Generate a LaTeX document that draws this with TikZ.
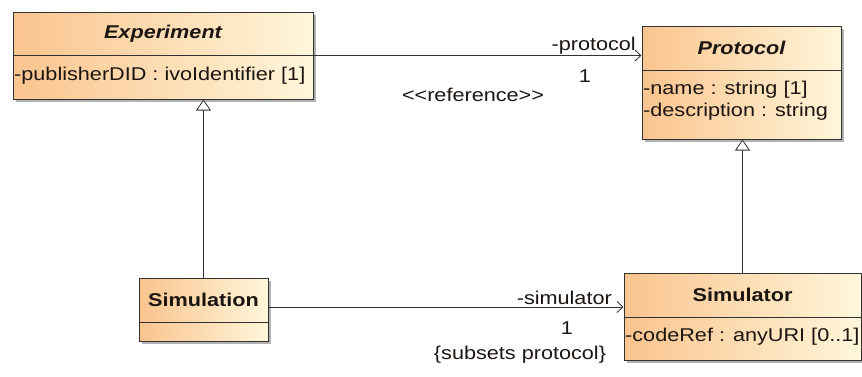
\documentclass[tikz,border=0pt]{standalone}
\usepackage{fontspec}
\setmainfont[FakeStretch=1.17]{Liberation Sans}
\usetikzlibrary{arrows.meta,shadows}
\definecolor{clsL}{RGB}{250,196,142}
\definecolor{clsR}{RGB}{255,246,218}
\definecolor{ink}{RGB}{28,22,18}
\definecolor{edge}{RGB}{50,50,50}
\begin{document}
\begin{tikzpicture}[x=1pt,y=-1pt,
  font=\fontsize{18.5}{22}\selectfont,
  classbox/.style={draw=edge, line width=1pt, left color=clsL, right color=clsR,
    drop shadow={shadow xshift=3pt,shadow yshift=-3pt,opacity=0.5,fill=black!60},
    inner sep=0pt, rectangle},
  divider/.style={draw=edge, line width=1pt},
  hdr/.style={font=\fontsize{18.5}{22}\selectfont\bfseries, text=ink, inner sep=0pt},
  abshdr/.style={font=\fontsize{18.5}{22}\selectfont\bfseries\itshape, text=ink, inner sep=0pt},
  attr/.style={anchor=west, inner sep=0pt, text=ink},
  lbl/.style={inner sep=0pt, text=ink},
  assoc/.style={draw=edge, line width=0.8pt, -{Straight Barb[length=6pt,width=11pt]}},
  gen/.style={draw=edge, line width=0.8pt, -{Triangle[length=11pt,width=15pt,fill=white]}}
]
\useasboundingbox[fill=white] (0,0) rectangle (862,376);

% Experiment
\node[classbox, minimum width=300pt, minimum height=87pt] (exp) at (163,55.5) {};
\draw[divider] (exp.west |- 0,55.5) -- (exp.east |- 0,55.5);
\node[abshdr] (expT) at (163,34) {Experiment};
\node[attr] (expA) at (14,76) {-publisherDID : ivoIdentifier [1]};

% Protocol
\node[classbox, minimum width=199pt, minimum height=113pt] (proto) at (741.5,82.5) {};
\draw[divider] (proto.west |- 0,70) -- (proto.east |- 0,70);
\node[abshdr] (protoT) at (741.5,48) {Protocol};
\node[attr] (protoA1) at (643,90) {-name : string [1]};
\node[attr] (protoA2) at (643,112) {-description : string};

% Simulation
\node[classbox, minimum width=129pt, minimum height=63pt] (simn) at (203.5,309.5) {};
\draw[divider] (simn.west |- 0,322) -- (simn.east |- 0,322);
\node[hdr] (simnT) at (203.5,300) {Simulation};

% Simulator
\node[classbox, minimum width=237pt, minimum height=87pt] (simr) at (742.5,316.5) {};
\draw[divider] (simr.west |- 0,317) -- (simr.east |- 0,317);
\node[hdr] (simrT) at (742.5,295) {Simulator};
\node[attr] (simrA) at (625,337) {-codeRef : anyURI [0..1]};

% associations
\draw[assoc] (exp.east |- 0,55.5) -- (proto.west |- 0,55.5);
\draw[assoc] (simn.east |- 0,307) -- (simr.west |- 0,307);

% generalizations
\draw[gen] (simn.north) -- (simn.north |- exp.south);
\draw[gen] (simr.north) -- (simr.north |- proto.south);

% labels
\node[lbl, anchor=base east] (l1) at (636,50) {-protocol};
\node[lbl] (l2) at (585,76) {1};
\node[lbl] (l3) at (473,95) {<\kern0pt<reference>\kern0pt>};
\node[lbl, anchor=base east] (l4) at (612,304) {-simulator};
\node[lbl] (l5) at (567,328) {1};
\node[lbl] (l6) at (520,355) {\{subsets protocol\}};
\end{tikzpicture}
\end{document}
